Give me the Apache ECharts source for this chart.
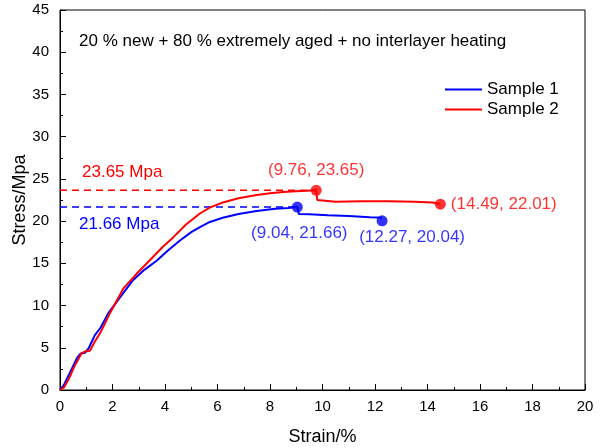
<!DOCTYPE html>
<html>
<head>
<meta charset="utf-8">
<script src="https://cdn.jsdelivr.net/npm/echarts@6/dist/echarts.min.js"></script>
<style>
  html, body { margin: 0; padding: 0; background: #fff; }
  #chart { width: 601px; height: 448px; }
</style>
</head>
<body>
<div id="chart"></div>
<script>
// Stress-strain curves for two printed samples
const xTicks = [0, 2, 4, 6, 8, 10, 12, 14, 16, 18, 20];
const yTicks = [0, 5, 10, 15, 20, 25, 30, 35, 40, 45];

const sample1Strain = [0, 0.15, 0.4, 0.65, 0.78, 0.95, 1.1, 1.33, 1.55, 1.84, 2.2, 2.78, 3.2, 3.68, 4.1, 4.57, 5.0, 5.33, 5.71, 6.2, 6.8, 7.49, 8.2, 8.7, 9.04, 9.1, 9.5, 10.2, 11.0, 11.8, 12.27];
const sample1Stress = [0, 0.6, 2.2, 3.8, 4.3, 4.4, 5.0, 6.5, 7.4, 9.1, 10.6, 13.0, 14.2, 15.3, 16.5, 17.7, 18.7, 19.3, 19.9, 20.4, 20.85, 21.2, 21.45, 21.55, 21.66, 20.85, 20.8, 20.7, 20.6, 20.45, 20.4];

const sample2Strain = [0, 0.15, 0.32, 0.55, 0.83, 0.95, 1.14, 1.3, 1.52, 1.7, 1.9, 2.41, 2.9, 3.43, 3.9, 4.32, 4.8, 5.33, 5.7, 6.2, 6.8, 7.49, 8.0, 8.5, 9.0, 9.4, 9.76, 9.8, 9.85, 10.5, 11.5, 12.5, 13.5, 14.2, 14.49];
const sample2Stress = [0, 0.3, 1.2, 2.8, 4.4, 4.55, 4.65, 5.6, 6.7, 7.8, 9.1, 12.0, 13.7, 15.4, 16.9, 18.1, 19.6, 20.9, 21.6, 22.2, 22.7, 23.1, 23.3, 23.45, 23.55, 23.6, 23.65, 22.5, 22.3, 22.3, 22.35, 22.35, 22.3, 22.2, 22.01];

// Annotated points: [strain, stress]
const sample1Peak = [9.04, 21.66];
const sample1End = [12.27, 20.04];
const sample2Peak = [9.76, 23.65];
const sample2End = [14.49, 22.01];

const seriesNames = ['Sample 1', 'Sample 2'];
const titleText = '20 % new + 80 % extremely aged + no interlayer heating';

const BLUE = '#0000ff';
const RED = '#ff0000';
const FONT = 'Liberation Sans, Arial, sans-serif';

const zip = (xs, ys) => xs.map((x, i) => [x, ys[i]]);
const fmtPt = p => '(' + p[0].toFixed(2) + ', ' + p[1].toFixed(2) + ')';

function pointSeries(pt, color, labelCfg) {
  return {
    type: 'scatter',
    data: [pt],
    symbol: 'circle',
    symbolSize: 11,
    itemStyle: { color: color },
    z: 5,
    label: Object.assign({
      show: true,
      color: color,
      fontFamily: FONT,
      fontSize: 17,
      formatter: () => fmtPt(pt)
    }, labelCfg)
  };
}

function peakLine(pt, color, offset) {
  return {
    type: 'line',
    data: [[0, pt[1]], pt],
    symbol: 'none',
    lineStyle: { color: color, width: 1.5, type: [7, 5] },
    z: 1,
    label: { show: false },
    markPoint: {
      symbol: 'circle',
      symbolSize: 0,
      data: [{ coord: [0, pt[1]], value: pt[1] }],
      label: {
        show: true,
        position: 'right',
        distance: 0,
        offset: offset,
        color: color,
        fontFamily: FONT,
        fontSize: 17,
        formatter: () => pt[1].toFixed(2) + ' Mpa'
      }
    }
  };
}

const chart = echarts.init(document.getElementById('chart'), null, { renderer: 'canvas' });

const axisCommon = {
  axisLine: { show: true, onZero: false, lineStyle: { color: '#000', width: 1 } },
  axisTick: { show: true, inside: true, length: 6, lineStyle: { color: '#000' } },
  minorTick: { show: true, splitNumber: 2, length: 3, lineStyle: { color: '#000' } },
  splitLine: { show: false },
  axisLabel: { color: '#000', fontFamily: FONT, fontSize: 15 },
  nameTextStyle: { color: '#000', fontFamily: FONT, fontSize: 18 },
  nameMoveOverlap: false
};

chart.setOption({
  backgroundColor: '#fff',
  animation: false,
  title: {
    text: titleText,
    left: 74, top: 28,
    textStyle: { color: '#000', fontFamily: FONT, fontSize: 17, fontWeight: 'normal' }
  },
  legend: {
    data: seriesNames,
    orient: 'vertical',
    left: 440, top: 76,
    itemWidth: 37, itemHeight: 2,
    itemGap: 3,
    icon: 'rect',
    textStyle: { color: '#000', fontFamily: FONT, fontSize: 17 }
  },
  grid: {
    left: 60, right: 16, top: 10, bottom: 58,
    show: true, borderColor: '#000', borderWidth: 1,
    containLabel: false, outerBoundsMode: 'none'
  },
  xAxis: Object.assign({}, axisCommon, {
    type: 'value',
    min: xTicks[0], max: xTicks[xTicks.length - 1], interval: 2,
    name: 'Strain/%', nameLocation: 'middle', nameGap: 38,
    axisLabel: Object.assign({}, axisCommon.axisLabel, { margin: 9 })
  }),
  yAxis: Object.assign({}, axisCommon, {
    type: 'value',
    min: yTicks[0], max: yTicks[yTicks.length - 1], interval: 5,
    name: 'Stress/Mpa', nameLocation: 'middle', nameGap: 31,
    axisLabel: Object.assign({}, axisCommon.axisLabel, { margin: 11 })
  }),
  series: [
    {
      name: seriesNames[0], type: 'line', data: zip(sample1Strain, sample1Stress),
      symbol: 'none', lineStyle: { color: BLUE, width: 2 }, itemStyle: { color: BLUE }, z: 3
    },
    {
      name: seriesNames[1], type: 'line', data: zip(sample2Strain, sample2Stress),
      symbol: 'none', lineStyle: { color: RED, width: 2 }, itemStyle: { color: RED }, z: 3
    },
    peakLine(sample2Peak, RED, [22, -18]),
    peakLine(sample1Peak, BLUE, [19, 17]),
    pointSeries(sample1Peak, BLUE, { position: 'bottom', distance: 12, offset: [2, 0] }),
    pointSeries(sample1End, BLUE, { position: 'bottom', distance: 1, offset: [30, 2] }),
    pointSeries(sample2Peak, RED, { position: 'top', distance: 6 }),
    pointSeries(sample2End, RED, { position: 'right', distance: 5 })
  ]
});
</script>
</body>
</html>
